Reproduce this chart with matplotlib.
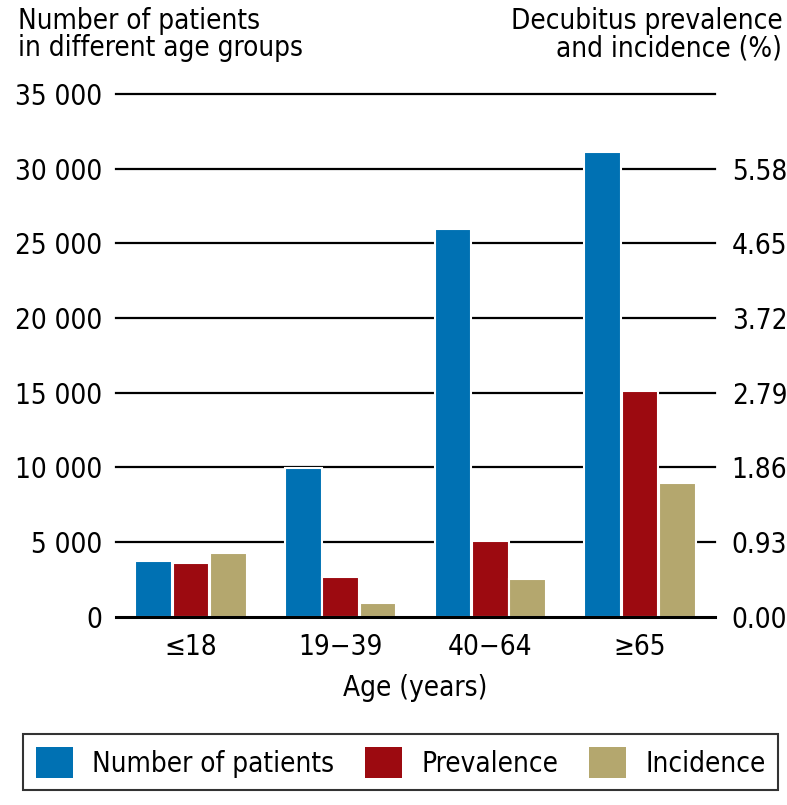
import matplotlib.pyplot as plt
from matplotlib import font_manager
import numpy as np

# Werte
age_groups = ['≤18', '19\u221239', '40\u221264', '≥65']
patients = [3740, 9970, 25970, 31090]
prevalence = [0.67, 0.50, 0.94, 2.81]   # %
incidence = [0.79, 0.17, 0.47, 1.67]    # %

left_ticks = [0, 5000, 10000, 15000, 20000, 25000, 30000, 35000]
left_labels = ['0', '5 000', '10 000', '15 000', '20 000', '25 000', '30 000', '35 000']
right_ticks = [0.00, 0.93, 1.86, 2.79, 3.72, 4.65, 5.58]

c_blue = '#0071B3'
c_red = '#9C0A10'
c_tan = '#B4A76E'

# schmale Schrift, falls vorhanden
narrow = [f.name for f in font_manager.fontManager.ttflist
          if str(f.stretch) in ('condensed', 'semi-condensed', '600', '700')
          or 'Narrow' in f.name or 'Condensed' in f.name]
if narrow:
    plt.rcParams['font.family'] = [narrow[0], 'DejaVu Sans']
    plt.rcParams['font.stretch'] = 'condensed'
    fs = 20
else:
    plt.rcParams['font.family'] = ['Liberation Sans', 'DejaVu Sans']
    fs = 19

fig = plt.figure(figsize=(7.87, 8.05), dpi=100)
ax = fig.add_axes([0.1474, 0.2339, 0.7611, 0.6493])
ax2 = ax.twinx()

x = np.arange(len(age_groups))
w = 0.25
bw = 0.245

for yv in left_ticks[1:]:
    ax.axhline(yv, color='black', lw=1.6, zorder=0, clip_on=False)

b1 = ax.bar(x - w, patients, bw, color=c_blue, edgecolor='white', lw=1.5, zorder=2)
b2 = ax2.bar(x, prevalence, bw, color=c_red, edgecolor='white', lw=1.5, zorder=2)
b3 = ax2.bar(x + w, incidence, bw, color=c_tan, edgecolor='white', lw=1.5, zorder=2)
ax2.axhline(0, color='black', lw=2.2, zorder=3, clip_on=False)

ax.set_xlim(-0.5, 3.5)
ax.set_ylim(0, 35000)
ax2.set_ylim(0, 35000 * 0.93 / 5000)

ax.set_yticks(left_ticks)
ax.set_yticklabels(left_labels)
ax2.set_yticks(right_ticks)
ax2.set_yticklabels(['%.2f' % t for t in right_ticks])
ax.set_xticks(x)
ax.set_xticklabels(age_groups)

for a in (ax, ax2):
    for s in a.spines.values():
        s.set_visible(False)
    a.tick_params(length=0, labelsize=fs)
ax.tick_params(axis='y', pad=10)
ax2.tick_params(axis='y', pad=12)
ax.tick_params(axis='x', pad=12)

ax.set_xlabel('Age (years)', fontsize=fs, labelpad=9)

fig.text(0.023, 0.991, 'Number of patients\nin different age groups', fontsize=fs,
         ha='left', va='top', linespacing=0.95)
fig.text(0.994, 0.991, 'Decubitus prevalence\nand incidence (%)', fontsize=fs,
         ha='right', va='top', linespacing=0.95, multialignment='right')

leg = fig.legend([b1, b2, b3], ['Number of patients', 'Prevalence', 'Incidence'],
                 loc='lower center', bbox_to_anchor=(0.509, 0.001), ncol=3, fontsize=fs,
                 frameon=True, fancybox=False, edgecolor='black', handlelength=1.33,
                 handleheight=1.33, handletextpad=0.7, columnspacing=1.1, borderpad=0.45)
leg.get_frame().set_linewidth(1.5)
for h in leg.legend_handles:
    h.set_edgecolor('none')

fig.savefig('out.png', dpi=100)
